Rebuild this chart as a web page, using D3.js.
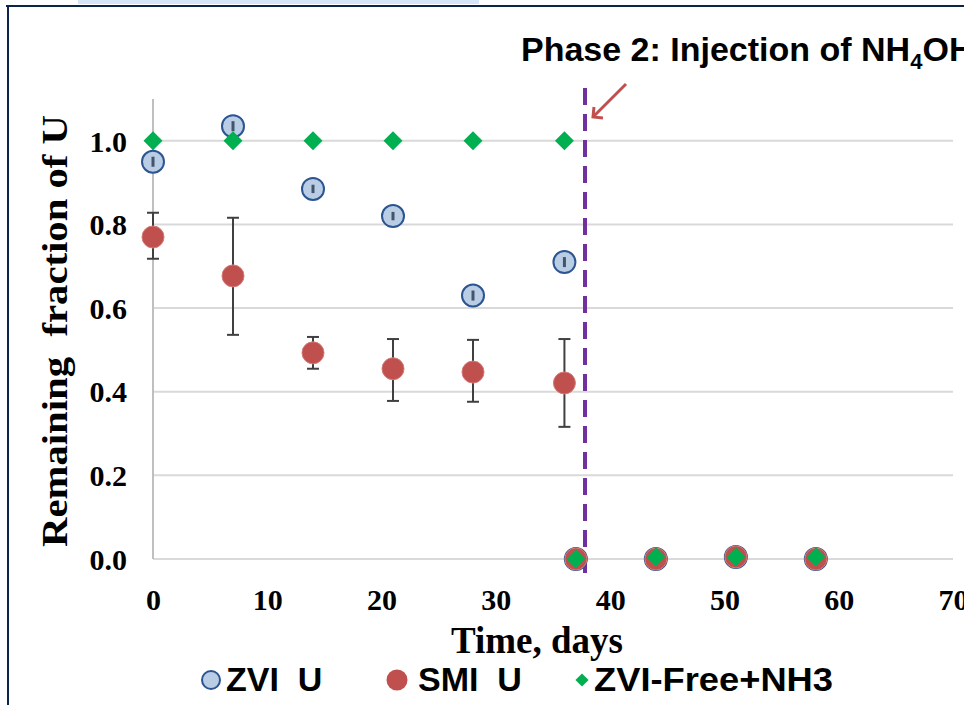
<!DOCTYPE html>
<html>
<head>
<meta charset="utf-8">
<script src="https://cdn.jsdelivr.net/npm/d3@7"></script>
<style>
  body { margin: 0; background: #fff; }
  svg { display: block; }
</style>
</head>
<body>
<svg id="chart" width="964" height="705"></svg>
<script>
// data
var days = [0, 7, 14, 21, 28, 36, 37, 44, 51, 58];
var zviU = [0.95, 1.035, 0.885, 0.82, 0.63, 0.71, 0, 0, 0.005, 0];
var zviErr = [0.012, 0.012, 0.01, 0.01, 0.012, 0.012, 0, 0, 0, 0];
var smiU = [0.77, 0.677, 0.493, 0.455, 0.447, 0.421, 0, 0, 0.005, 0];
var smiLo = [0.718, 0.536, 0.455, 0.378, 0.376, 0.316, 0, 0, 0.005, 0];
var smiHi = [0.828, 0.816, 0.531, 0.526, 0.524, 0.526, 0, 0, 0.005, 0];
var nh3 = [1, 1, 1, 1, 1, 1, 0, 0.005, 0.005, 0.005];
var xTicks = [0, 10, 20, 30, 40, 50, 60, 70];
var yTicks = [0, 0.2, 0.4, 0.6, 0.8, 1.0];
var phaseDay = 37.8;

var svg = d3.select("#chart");
var serif = "Liberation Serif, Times New Roman, serif";
var sans = "Liberation Sans, Arial, sans-serif";

var x = d3.scaleLinear().domain([0, 70]).range([153, 953]);
var y = d3.scaleLinear().domain([0, 1.1]).range([559, 99]);

// slide frame bits
svg.append("rect").attr("x", 78).attr("y", 0).attr("width", 401).attr("height", 4).attr("fill", "#d6e4f7");
svg.append("line").attr("x1", 6).attr("x2", 964).attr("y1", 6).attr("y2", 6).attr("stroke", "#0b2447").attr("stroke-width", 2);
svg.append("line").attr("x1", 8).attr("x2", 8).attr("y1", 6).attr("y2", 705).attr("stroke", "#0b2447").attr("stroke-width", 2);

// gridlines
svg.append("g").selectAll("line").data(yTicks).enter().append("line")
  .attr("x1", x(0)).attr("x2", x(70))
  .attr("y1", function(d){ return y(d); }).attr("y2", function(d){ return y(d); })
  .attr("stroke", "#d9d9d9").attr("stroke-width", 2);

svg.append("line").attr("x1", x(0)).attr("x2", x(0)).attr("y1", y(1.1)).attr("y2", y(0))
  .attr("stroke", "#bfbfbf").attr("stroke-width", 2);

// axes
var xAxis = svg.append("g").attr("transform", "translate(0," + y(0) + ")")
  .call(d3.axisBottom(x).tickValues(xTicks).tickSize(0).tickFormat(d3.format("d")));
var yAxis = svg.append("g").attr("transform", "translate(" + (x(0) - 26) + ",0)")
  .call(d3.axisLeft(y).tickValues(yTicks).tickSize(0).tickFormat(d3.format(".1f")));
[xAxis, yAxis].forEach(function(a){
  a.select(".domain").remove();
  a.selectAll("text").attr("font-family", serif)
    .attr("font-weight", "bold").attr("font-size", 30).attr("fill", "#000");
});
xAxis.selectAll("text").attr("y", 51).attr("dy", null);
yAxis.selectAll("text").attr("x", 0).attr("dy", "0.34em");

// axis titles
svg.append("text").attr("x", 537).attr("y", 653).attr("text-anchor", "middle")
  .attr("font-family", serif).attr("font-weight", "bold")
  .attr("font-size", 37).text("Time, days");
svg.append("text").attr("transform", "translate(67,331) rotate(-90)").attr("text-anchor", "middle")
  .attr("font-family", serif).attr("font-weight", "bold").attr("xml:space", "preserve")
  .attr("font-size", 36).attr("textLength", 432).attr("lengthAdjust", "spacingAndGlyphs")
  .text("Remaining  fraction of U");

// phase 2 line
svg.append("line").attr("x1", x(phaseDay)).attr("x2", x(phaseDay)).attr("y1", 88).attr("y2", 580)
  .attr("stroke", "#7030a0").attr("stroke-width", 4).attr("stroke-dasharray", "17,9");

var pts = days.map(function(d, i){ return {d: d, i: i}; });

// SMI error bars
var eb = svg.append("g").attr("stroke", "#404040").attr("stroke-width", 2);
pts.filter(function(p){ return smiHi[p.i] - smiLo[p.i] > 0.01; }).forEach(function(p){
  var cx = x(p.d);
  eb.append("line").attr("x1", cx).attr("x2", cx).attr("y1", y(smiHi[p.i])).attr("y2", y(smiLo[p.i]));
  eb.append("line").attr("x1", cx - 6).attr("x2", cx + 6).attr("y1", y(smiHi[p.i])).attr("y2", y(smiHi[p.i]));
  eb.append("line").attr("x1", cx - 6).attr("x2", cx + 6).attr("y1", y(smiLo[p.i])).attr("y2", y(smiLo[p.i]));
});

// ZVI U
svg.append("g").selectAll("circle").data(pts).enter().append("circle")
  .attr("cx", function(p){ return x(p.d); }).attr("cy", function(p){ return y(zviU[p.i]); })
  .attr("r", 11).attr("fill", "#b9cde5").attr("stroke", "#2c5491").attr("stroke-width", 2);
var zeb = svg.append("g").attr("stroke", "#44546a").attr("stroke-width", 3);
pts.filter(function(p){ return zviErr[p.i] > 0; }).forEach(function(p){
  var cx = x(p.d);
  zeb.append("line").attr("x1", cx).attr("x2", cx)
    .attr("y1", y(zviU[p.i] + zviErr[p.i])).attr("y2", y(zviU[p.i] - zviErr[p.i]));
});

// SMI U
svg.append("g").selectAll("circle").data(pts).enter().append("circle")
  .attr("cx", function(p){ return x(p.d); }).attr("cy", function(p){ return y(smiU[p.i]); })
  .attr("r", 11).attr("fill", "#c0504d").attr("stroke", "#d47c79").attr("stroke-width", 1);

// ZVI-Free+NH3
var diamond = d3.symbol().type(d3.symbolDiamond2).size(230);
svg.append("g").selectAll("path").data(pts).enter().append("path")
  .attr("d", diamond)
  .attr("transform", function(p){ return "translate(" + x(p.d) + "," + y(nh3[p.i]) + ")"; })
  .attr("fill", "#00b050");

// arrow
svg.append("line").attr("x1", 626).attr("y1", 84).attr("x2", 593).attr("y2", 117)
  .attr("stroke", "#c0504d").attr("stroke-width", 3);
svg.append("path").attr("d", "M603,118 L593,117 L594,107").attr("fill", "none")
  .attr("stroke", "#c0504d").attr("stroke-width", 3);

// title
var t = svg.append("text").attr("x", 521).attr("y", 61)
  .attr("font-family", sans).attr("font-weight", "bold")
  .attr("font-size", 34).attr("fill", "#000");
t.append("tspan").text("Phase 2: Injection of NH");
t.append("tspan").attr("font-size", 22).attr("dy", 8).text("4");
t.append("tspan").attr("dy", -8).text("OH");

// legend
var leg = svg.append("g").attr("font-family", sans)
  .attr("font-weight", "bold").attr("font-size", 34);
leg.append("circle").attr("cx", 211).attr("cy", 680).attr("r", 9)
  .attr("fill", "#b9cde5").attr("stroke", "#2c5491").attr("stroke-width", 2);
leg.append("text").attr("x", 226).attr("y", 691).attr("xml:space", "preserve").text("ZVI  U");
leg.append("circle").attr("cx", 397).attr("cy", 680).attr("r", 10.5).attr("fill", "#c0504d");
leg.append("text").attr("x", 418).attr("y", 691).attr("xml:space", "preserve").text("SMI  U");
leg.append("path").attr("d", d3.symbol().type(d3.symbolDiamond2).size(110))
  .attr("transform", "translate(582,680)").attr("fill", "#00b050");
leg.append("text").attr("x", 594).attr("y", 691).attr("textLength", 239)
  .attr("lengthAdjust", "spacingAndGlyphs").text("ZVI-Free+NH3");
</script>
</body>
</html>
